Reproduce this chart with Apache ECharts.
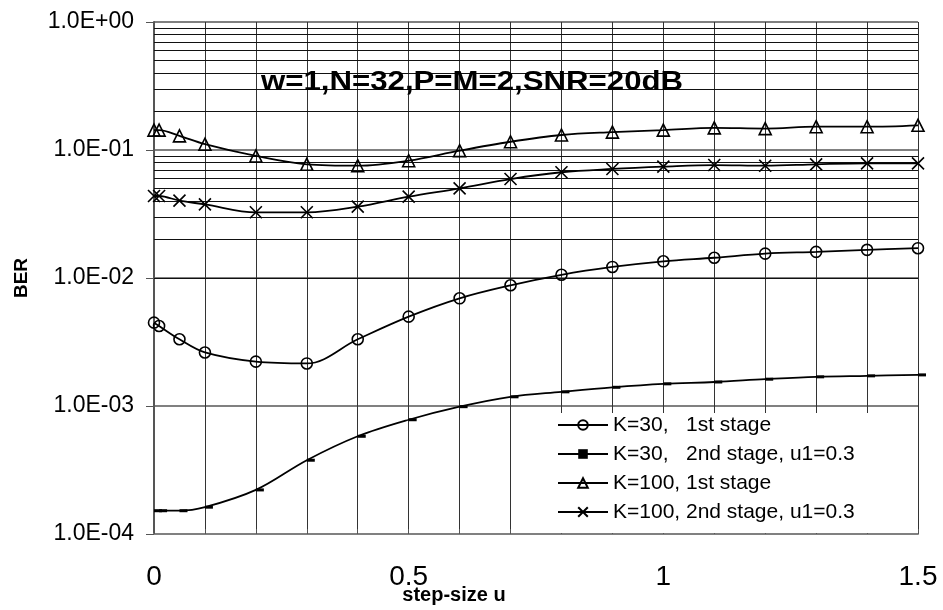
<!DOCTYPE html>
<html>
<head>
<meta charset="utf-8">
<title>BER vs step-size</title>
<script src="https://cdn.jsdelivr.net/npm/echarts@6/dist/echarts.min.js"></script>
<style>
  html, body { margin: 0; padding: 0; background: #fff; }
  #chart { width: 943px; height: 610px; }
</style>
</head>
<body>
<div id="chart"></div>
<script>
// step-size values shared by all curves
const uValues = [0, 0.01, 0.05, 0.1, 0.2, 0.3, 0.4, 0.5, 0.6, 0.7, 0.8, 0.9, 1.0, 1.1, 1.2, 1.3, 1.4, 1.5]

const k30Stage1 = [0.00448, 0.00422, 0.00332, 0.00262, 0.00222, 0.00215, 0.00332, 0.00499, 0.00694, 0.00877,
  0.0106, 0.0122, 0.0135, 0.0144, 0.0155, 0.0160, 0.0166, 0.0171]
const k30Stage2 = [1.52e-4, 1.52e-4, 1.52e-4, 1.62e-4, 2.21e-4, 3.77e-4, 5.80e-4, 7.81e-4, 9.88e-4, 1.18e-3,
  1.29e-3, 1.40e-3, 1.49e-3, 1.54e-3, 1.62e-3, 1.69e-3, 1.72e-3, 1.75e-3]
const k100Stage1 = [0.143, 0.143, 0.129, 0.111, 0.0898, 0.0773, 0.0754, 0.0825, 0.0988, 0.116,
  0.131, 0.138, 0.143, 0.149, 0.147, 0.152, 0.152, 0.156]
const k100Stage2 = [0.0437, 0.0437, 0.0402, 0.0376, 0.0326, 0.0326, 0.0361, 0.0432, 0.0502, 0.0593,
  0.0670, 0.0711, 0.0741, 0.0763, 0.0754, 0.0773, 0.0787, 0.0787]

const seriesNames = ['K=30,   1st stage', 'K=30,   2nd stage, u1=0.3', 'K=100, 1st stage', 'K=100, 2nd stage, u1=0.3']

// tick labels
const xLabelValues = [0, 0.5, 1, 1.5]
const xLabelTexts = ['0', '0.5', '1', '1.5']
const yLabelValues = [1e-4, 1e-3, 1e-2, 1e-1, 1]
const yLabelTexts = ['1.0E-04', '1.0E-03', '1.0E-02', '1.0E-01', '1.0E+00']

// log-scale minor grid: 2..9 inside each decade
const decades = [1e-4, 1e-3, 1e-2, 1e-1]
const minorSteps = [2, 3, 4, 5, 6, 7, 8, 9]

const FONT = 'Liberation Sans, Arial, sans-serif'

const toPairs = (ys) => uValues.map((u, i) => [u, ys[i]])

const minorLines = []
decades.forEach(d => minorSteps.forEach(m => minorLines.push({ yAxis: m * d })))

const chart = echarts.init(document.getElementById('chart'))

const baseSeries = {
  type: 'line',
  smooth: 0.35,
  showAllSymbol: true,
  animation: false,
  lineStyle: { color: '#000', width: 1.8 },
  z: 2
}

const option = {
  animation: false,
  backgroundColor: '#fff',
  grid: { left: 154, right: 25, top: 22, bottom: 76, containLabel: false, outerBoundsMode: 'none' },
  xAxis: {
    type: 'value',
    min: 0,
    max: 1.5,
    interval: 0.1,
    axisLine: { show: true, lineStyle: { color: '#808080', width: 2 } },
    axisTick: { show: true, inside: true, length: 5, lineStyle: { color: '#555' } },
    splitLine: { show: true, lineStyle: { color: '#333', width: 1 } },
    axisLabel: {
      color: '#000',
      fontFamily: FONT,
      fontSize: 28,
      margin: 29,
      formatter: (v) => {
        const i = xLabelValues.findIndex(t => Math.abs(t - v) < 1e-6)
        return i >= 0 ? xLabelTexts[i] : ''
      }
    }
  },
  yAxis: {
    type: 'log',
    logBase: 10,
    min: 1e-4,
    max: 1,
    name: 'BER',
    nameLocation: 'middle',
    nameGap: 123,
    nameRotate: 90,
    nameTextStyle: { color: '#000', fontFamily: FONT, fontSize: 19, fontWeight: 'bold' },
    axisLine: { show: true, lineStyle: { color: '#555', width: 2 } },
    axisTick: { show: true, inside: false, length: 8, lineStyle: { color: '#555' } },
    splitLine: { show: true, lineStyle: { color: '#808080', width: 2 } },
    axisLabel: {
      color: '#000',
      fontFamily: FONT,
      fontSize: 23,
      margin: 20,
      formatter: (v) => {
        const i = yLabelValues.findIndex(t => Math.abs(Math.log10(t) - Math.log10(v)) < 1e-6)
        return i >= 0 ? yLabelTexts[i] : ''
      }
    }
  },
  legend: {
    orient: 'vertical',
    left: 557,
    top: 414,
    padding: 0,
    itemGap: 7,
    itemWidth: 50,
    itemHeight: 12,
    textStyle: { color: '#000', fontFamily: FONT, fontSize: 21, lineHeight: 22 },
    data: seriesNames
  },
  graphic: [
    {
      type: 'rect',
      z: 3,
      silent: true,
      shape: { x: 517, y: 413, width: 373, height: 120 },
      style: { fill: '#fff' }
    },
    {
      type: 'text',
      z: 10,
      x: 261,
      y: 83,
      scaleX: 1.155,
      style: {
        text: 'w=1,N=32,P=M=2,SNR=20dB',
        fill: '#000',
        fontFamily: FONT,
        fontSize: 27,
        fontWeight: 'bold',
        align: 'left',
        verticalAlign: 'middle'
      }
    },
    {
      type: 'text',
      z: 10,
      x: 454,
      y: 595,
      style: {
        text: 'step-size u',
        fill: '#000',
        fontFamily: FONT,
        fontSize: 20,
        fontWeight: 'bold',
        align: 'center',
        verticalAlign: 'middle'
      }
    }
  ],
  series: [
    Object.assign({}, baseSeries, {
      name: seriesNames[0],
      data: toPairs(k30Stage1),
      symbol: 'circle',
      symbolSize: 11,
      itemStyle: { color: 'rgba(255,255,255,0)', borderColor: '#000', borderWidth: 1.6 },
      markLine: {
        silent: true,
        z: 1,
        symbol: 'none',
        animation: false,
        label: { show: false },
        lineStyle: { color: '#111', width: 1, type: 'solid' },
        data: minorLines
      }
    }),
    Object.assign({}, baseSeries, {
      name: seriesNames[1],
      data: toPairs(k30Stage2),
      symbol: 'rect',
      symbolSize: [8, 3],
      symbolOffset: [4, 0],
      itemStyle: { color: '#000', borderColor: '#000', borderWidth: 0 }
    }),
    Object.assign({}, baseSeries, {
      name: seriesNames[2],
      data: toPairs(k100Stage1),
      symbol: 'triangle',
      symbolSize: 12,
      itemStyle: { color: 'rgba(255,255,255,0)', borderColor: '#000', borderWidth: 1.6 }
    }),
    Object.assign({}, baseSeries, {
      name: seriesNames[3],
      data: toPairs(k100Stage2),
      symbol: 'path://M0,0L10,10M10,0L0,10',
      symbolSize: 12,
      itemStyle: { color: 'rgba(255,255,255,0)', borderColor: '#000', borderWidth: 1.6 }
    })
  ]
}

chart.setOption(option)
</script>
</body>
</html>
